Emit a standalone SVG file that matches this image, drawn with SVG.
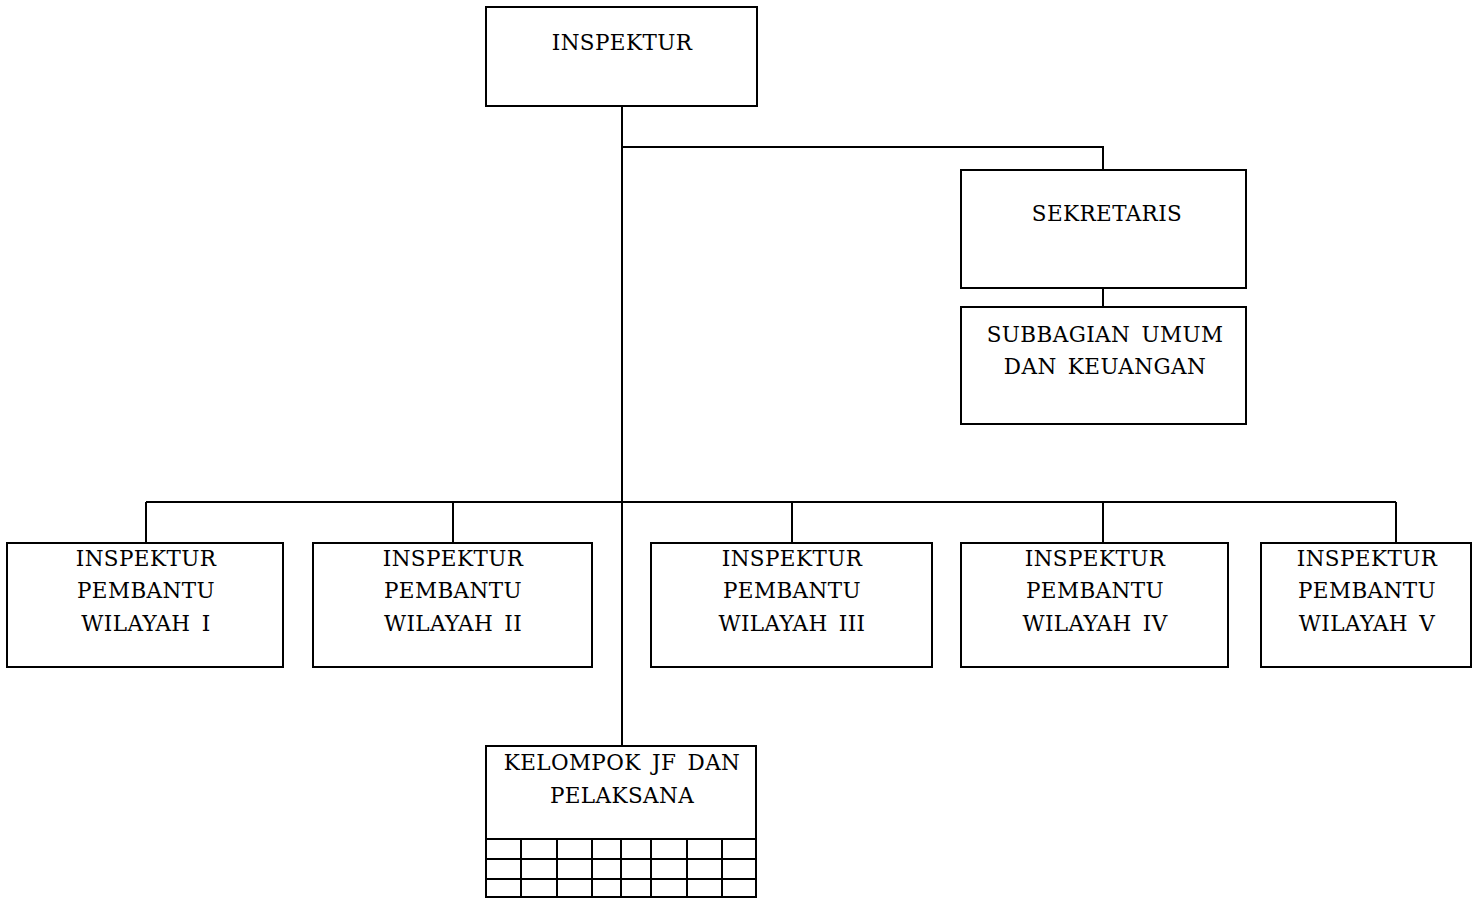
<svg xmlns="http://www.w3.org/2000/svg" width="1481" height="899" viewBox="0 0 1481 899">
<style>
.box{fill:#fff;stroke:#000;stroke-width:2}
.ln{fill:none;stroke:#000;stroke-width:2}
text{font-family:"DejaVu Serif","Liberation Serif",serif;font-size:21.5px;letter-spacing:0.4px;word-spacing:4px;fill:#000;text-anchor:middle}
</style>
<rect width="1481" height="899" fill="#fff"/>
<g id="connectors" class="ln">
<path d="M622 106V746"/>
<path d="M622 147H1103V170"/>
<path d="M1103 288V307"/>
<path d="M146 502H1396"/>
<path d="M146 502V543M453 502V543M792 502V543M1103 502V543M1396 502V543"/>
</g>
<g id="inspektur"><rect class="box" x="486" y="7" width="271" height="99"/><text x="622" y="50">INSPEKTUR</text></g>
<g id="sekretaris"><rect class="box" x="961" y="170" width="285" height="118"/><text x="1107" y="221">SEKRETARIS</text></g>
<g id="subbagian"><rect class="box" x="961" y="307" width="285" height="117"/><text x="1105" y="342">SUBBAGIAN UMUM</text><text x="1105" y="374">DAN KEUANGAN</text></g>
<g id="irban1"><rect class="box" x="7" y="543" width="276" height="124"/><text x="146" y="566">INSPEKTUR</text><text x="146" y="598">PEMBANTU</text><text x="146" y="631">WILAYAH I</text></g>
<g id="irban2"><rect class="box" x="313" y="543" width="279" height="124"/><text x="453" y="566">INSPEKTUR</text><text x="453" y="598">PEMBANTU</text><text x="453" y="631">WILAYAH II</text></g>
<g id="irban3"><rect class="box" x="651" y="543" width="281" height="124"/><text x="792" y="566">INSPEKTUR</text><text x="792" y="598">PEMBANTU</text><text x="792" y="631">WILAYAH III</text></g>
<g id="irban4"><rect class="box" x="961" y="543" width="267" height="124"/><text x="1095" y="566">INSPEKTUR</text><text x="1095" y="598">PEMBANTU</text><text x="1095" y="631">WILAYAH IV</text></g>
<g id="irban5"><rect class="box" x="1261" y="543" width="210" height="124"/><text x="1367" y="566">INSPEKTUR</text><text x="1367" y="598">PEMBANTU</text><text x="1367" y="631">WILAYAH V</text></g>
<g id="kelompok"><rect class="box" x="486" y="746" width="270" height="151"/><text x="622" y="770">KELOMPOK JF DAN</text><text x="622" y="803">PELAKSANA</text>
<path class="ln" d="M486 839H756M486 859H756M486 879H756M521 839V897M557 839V897M592 839V897M621 839V897M651 839V897M687 839V897M722 839V897"/></g>
</svg>
